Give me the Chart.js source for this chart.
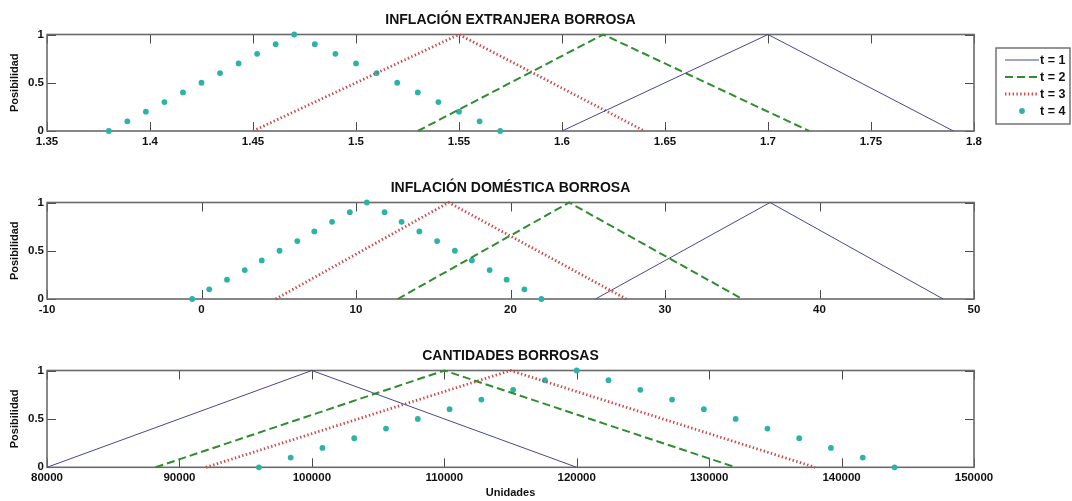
<!DOCTYPE html>
<html>
<head>
<meta charset="utf-8">
<script src="https://cdn.jsdelivr.net/npm/chart.js@4/dist/chart.umd.min.js"></script>
<style>
  html, body { margin: 0; padding: 0; background: #fff; }
  #wrap { position: relative; width: 1072px; height: 501px; overflow: hidden; }
  canvas { position: absolute; left: 0; }
</style>
</head>
<body>
<div id="wrap">
  <canvas id="c-foreign" width="1072" height="168" style="top:0"></canvas>
  <canvas id="c-domestic" width="1072" height="168" style="top:168px"></canvas>
  <canvas id="c-qty" width="1072" height="165" style="top:336px"></canvas>
</div>
<script>
// membership values shared by every panel
const triY = [0, 1, 0];
const t4Y = [0, 0.1, 0.2, 0.3, 0.4, 0.5, 0.6, 0.7, 0.8, 0.9, 1, 0.9, 0.8, 0.7, 0.6, 0.5, 0.4, 0.3, 0.2, 0.1, 0];
const possTicks = [0, 0.5, 1];
const legendLabels = ['t = 1', 't = 2', 't = 3', 't = 4'];

// INFLACION EXTRANJERA
const fxT1X = [1.6, 1.7, 1.79];
const fxT2X = [1.53, 1.62, 1.72];
const fxT3X = [1.45, 1.55, 1.64];
const fxT4X = [1.38, 1.389, 1.398, 1.407, 1.416, 1.425, 1.434, 1.443, 1.452, 1.461, 1.47,
  1.48, 1.49, 1.5, 1.51, 1.52, 1.53, 1.54, 1.55, 1.56, 1.57];
const fxTicks = [1.35, 1.4, 1.45, 1.5, 1.55, 1.6, 1.65, 1.7, 1.75, 1.8];

// INFLACION DOMESTICA
const dmT1X = [25.5, 36.8, 48];
const dmT2X = [12.7, 23.8, 35];
const dmT3X = [4.8, 16, 27.5];
const dmT4X = [-0.6, 0.5, 1.65, 2.8, 3.9, 5.05, 6.2, 7.3, 8.45, 9.6, 10.7,
  11.85, 12.95, 14.1, 15.25, 16.4, 17.5, 18.65, 19.75, 20.9, 22];
const dmTicks = [-10, 0, 10, 20, 30, 40, 50];

// CANTIDADES
const qtT1X = [80000, 100000, 120000];
const qtT2X = [88200, 110000, 132000];
const qtT3X = [92000, 115000, 138000];
const qtT4X = [96000, 98400, 100800, 103200, 105600, 108000, 110400, 112800, 115200, 117600, 120000,
  122400, 124800, 127200, 129600, 132000, 134400, 136800, 139200, 141600, 144000];
const qtTicks = [80000, 90000, 100000, 110000, 120000, 130000, 140000, 150000];

const FONT = "'Liberation Sans', Arial, Helvetica, sans-serif";
const TICK = 9;

const pts = (xs, ys) => xs.map((v, i) => ({ x: v, y: ys[i] }));

const buildDatasets = (t1, t2, t3, t4) => [
  { label: legendLabels[0], data: pts(t1, triY), showLine: true, pointRadius: 0,
    borderColor: '#47478c', borderWidth: 1 },
  { label: legendLabels[1], data: pts(t2, triY), showLine: true, pointRadius: 0,
    borderColor: '#2f8c2f', borderWidth: 2, borderDash: [8, 4] },
  { label: legendLabels[2], data: pts(t3, triY), showLine: true, pointRadius: 0,
    borderColor: '#c94a4a', borderWidth: 2.8, borderDash: [1.4, 2.4] },
  { label: legendLabels[3], data: pts(t4, t4Y), showLine: false, pointRadius: 2.9,
    backgroundColor: '#2db3a6', borderWidth: 0 },
];

// matlab style box with inward ticks on all four sides
const matlabFrame = {
  id: 'matlabFrame',
  beforeDatasetsDraw(chart) {
    const { ctx, chartArea: a, scales: { x, y } } = chart;
    ctx.save();
    ctx.strokeStyle = '#4a4a4a';
    ctx.lineWidth = 1;
    ctx.beginPath();
    x.ticks.forEach((t) => {
      const px = Math.round(x.getPixelForValue(t.value)) + 0.5;
      ctx.moveTo(px, a.bottom); ctx.lineTo(px, a.bottom - TICK);
      ctx.moveTo(px, a.top); ctx.lineTo(px, a.top + TICK);
    });
    y.ticks.forEach((t) => {
      const py = Math.round(y.getPixelForValue(t.value)) + 0.5;
      ctx.moveTo(a.left, py); ctx.lineTo(a.left + TICK, py);
      ctx.moveTo(a.right, py); ctx.lineTo(a.right - TICK, py);
    });
    ctx.stroke();
    ctx.strokeStyle = '#6a6a6a';
    ctx.lineWidth = 1.6;
    ctx.strokeRect(a.left, a.top, a.right - a.left, a.bottom - a.top);
    ctx.restore();
  }
};

// boxed legend to the right of the first panel
const boxLegend = {
  id: 'boxLegend',
  afterDraw(chart) {
    const { ctx } = chart;
    const bx = 996, by = 48, bw = 74, bh = 76;
    ctx.save();
    ctx.fillStyle = '#fff';
    ctx.fillRect(bx, by, bw, bh);
    ctx.strokeStyle = '#6a6a6a';
    ctx.lineWidth = 1.4;
    ctx.strokeRect(bx, by, bw, bh);
    chart.data.datasets.forEach((ds, i) => {
      const ry = by + 12 + i * 17;
      if (ds.showLine) {
        ctx.beginPath();
        ctx.strokeStyle = ds.borderColor;
        ctx.lineWidth = ds.borderWidth;
        ctx.setLineDash(ds.borderDash || []);
        ctx.moveTo(bx + 9, ry);
        ctx.lineTo(bx + 43, ry);
        ctx.stroke();
        ctx.setLineDash([]);
      } else {
        ctx.beginPath();
        ctx.fillStyle = ds.backgroundColor;
        ctx.arc(bx + 26, ry, ds.pointRadius, 0, Math.PI * 2);
        ctx.fill();
      }
      ctx.fillStyle = '#111';
      ctx.font = `bold 12.5px ${FONT}`;
      ctx.textBaseline = 'middle';
      ctx.textAlign = 'left';
      ctx.fillText(ds.label, bx + 44, ry + 1);
    });
    ctx.restore();
  }
};

const makeChart = (id, title, xTicks, datasets, xTitle, withLegend) => {
  const tickFont = { family: FONT, size: 11.5, weight: 'bold' };
  return new Chart(document.getElementById(id), {
    type: 'scatter',
    data: { datasets },
    options: {
      responsive: false,
      animation: false,
      events: [],
      clip: false,
      layout: { padding: { left: 0, right: 98, top: 0, bottom: xTitle ? 0 : 17 } },
      plugins: {
        legend: { display: false },
        tooltip: { enabled: false },
        title: {
          display: true,
          text: title,
          fullSize: false,
          color: '#111',
          font: { family: FONT, size: 14, weight: 'bold', lineHeight: 1.2 },
          padding: { top: 11.6, bottom: 6.1 },
        },
      },
      scales: {
        x: {
          type: 'linear',
          min: xTicks[0],
          max: xTicks[xTicks.length - 1],
          afterBuildTicks: (scale) => { scale.ticks = xTicks.map((v) => ({ value: v })); },
          afterFit: (scale) => { scale.height = xTitle ? 33.7 : 20; },
          grid: { display: false, drawTicks: false },
          border: { display: false },
          ticks: {
            color: '#111',
            font: tickFont,
            padding: 4,
            maxRotation: 0,
            autoSkip: false,
            callback: (v) => String(v),
          },
          title: {
            display: !!xTitle,
            text: xTitle || '',
            color: '#111',
            font: { family: FONT, size: 11, weight: 'bold', lineHeight: 1.2 },
            padding: { top: 0, bottom: 1.5 },
          },
        },
        y: {
          type: 'linear',
          min: 0,
          max: 1,
          afterBuildTicks: (scale) => { scale.ticks = possTicks.map((v) => ({ value: v })); },
          afterFit: (scale) => { scale.width = 47; },
          grid: { display: false, drawTicks: false },
          border: { display: false },
          ticks: {
            color: '#111',
            font: tickFont,
            padding: 3,
            callback: (v) => String(v),
          },
          title: {
            display: true,
            text: 'Posibilidad',
            color: '#111',
            font: { family: FONT, size: 11, weight: 'bold', lineHeight: 1.2 },
            padding: { top: 8.5, bottom: 0 },
          },
        },
      },
    },
    plugins: withLegend ? [matlabFrame, boxLegend] : [matlabFrame],
  });
};

makeChart('c-foreign', 'INFLACIÓN EXTRANJERA BORROSA', fxTicks,
  buildDatasets(fxT1X, fxT2X, fxT3X, fxT4X), null, true);
makeChart('c-domestic', 'INFLACIÓN DOMÉSTICA BORROSA', dmTicks,
  buildDatasets(dmT1X, dmT2X, dmT3X, dmT4X), null, false);
makeChart('c-qty', 'CANTIDADES BORROSAS', qtTicks,
  buildDatasets(qtT1X, qtT2X, qtT3X, qtT4X), 'Unidades', false);
</script>
</body>
</html>
